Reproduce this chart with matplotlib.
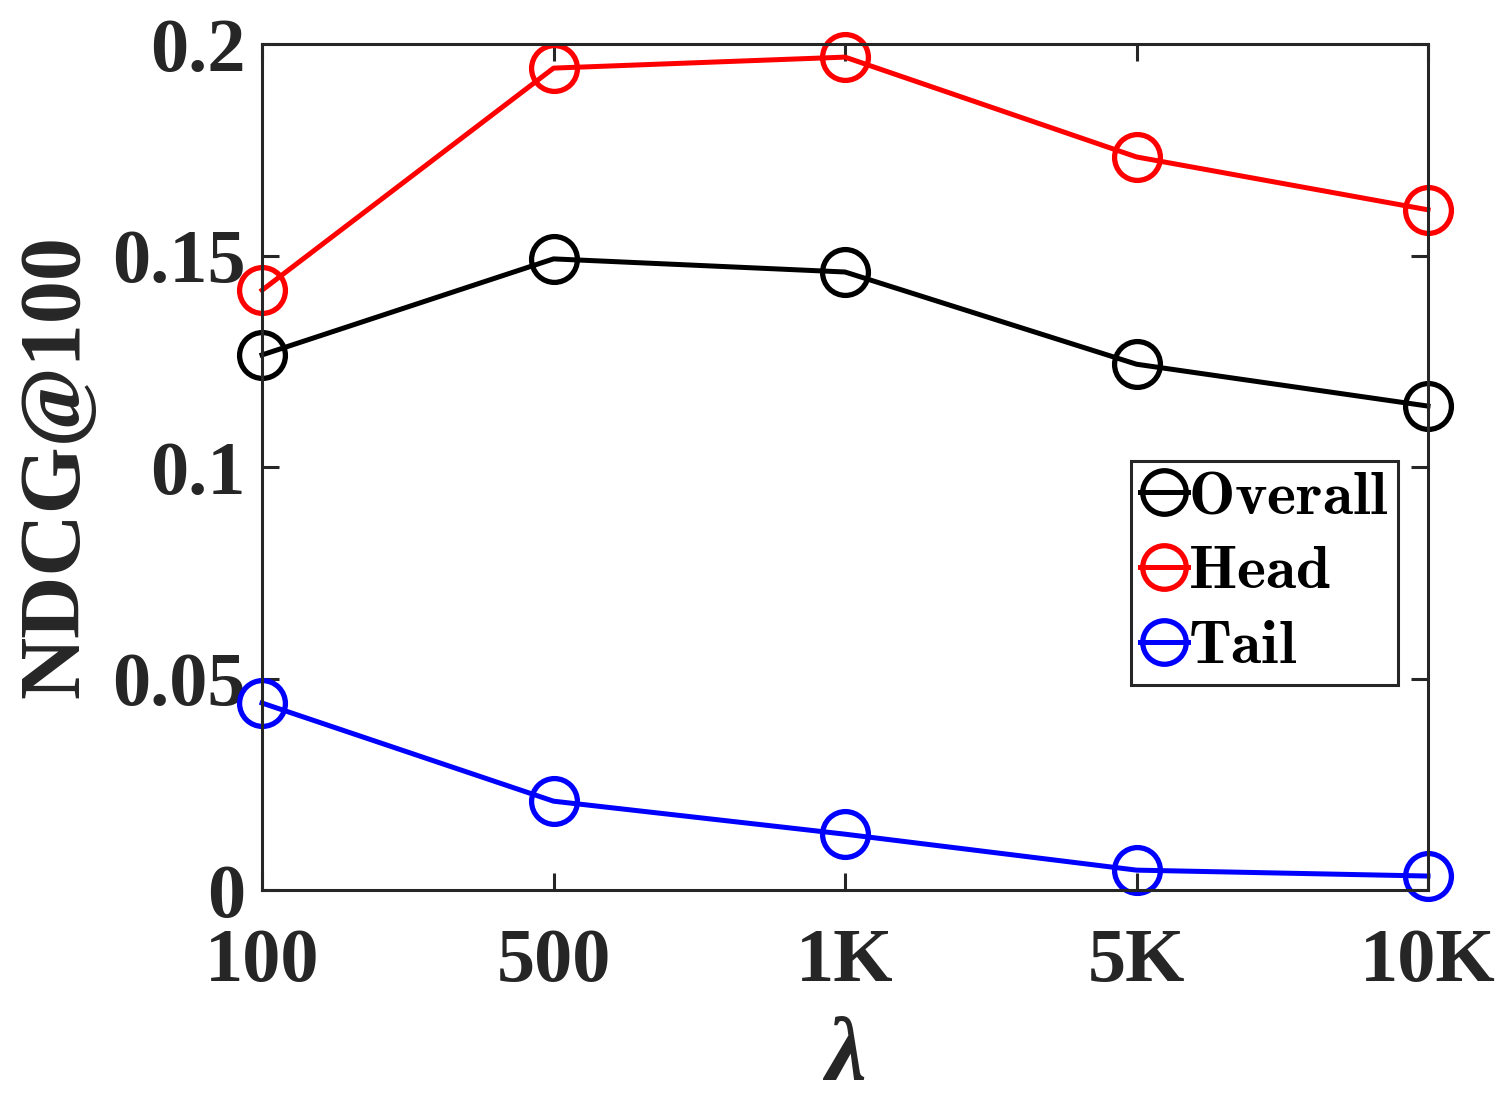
import matplotlib
matplotlib.use("Agg")
import matplotlib.pyplot as plt

plt.rcParams["font.family"] = ["Liberation Serif", "DejaVu Serif"]
plt.rcParams["font.weight"] = "bold"
plt.rcParams["mathtext.fontset"] = "cm"

# x の値 (λ)
lambdas = ["100", "500", "1K", "5K", "10K"]
overall = [0.1265, 0.1492, 0.1461, 0.1243, 0.1144]
head = [0.1418, 0.1943, 0.1969, 0.1733, 0.1608]
tail = [0.0442, 0.0210, 0.0132, 0.0047, 0.0033]
series_names = ["Overall", "Head", "Tail"]

yticks = [0, 0.05, 0.1, 0.15, 0.2]
ytick_labels = ["0", "0.05", "0.1", "0.15", "0.2"]

frame_color = "#262626"

fig = plt.figure(figsize=(15, 11), dpi=100)
ax = fig.add_axes([0.1747, 0.1909, 0.952 - 0.1747, 0.96 - 0.1909])

x = list(range(len(lambdas)))
style = dict(marker="o", markersize=33, markerfacecolor="none",
             markeredgewidth=3.8, lw=3.6, clip_on=False)
for vals, col, name in zip([overall, head, tail], ["black", "red", "blue"], series_names):
    ax.plot(x, vals, color=col, label=r"$\mathbf{%s}$" % name, **style)

ax.set_xlim(0, len(lambdas) - 1)
ax.set_ylim(0, 0.2)
ax.set_xticks(x)
ax.set_xticklabels(lambdas)
ax.set_yticks(yticks)
ax.set_yticklabels(ytick_labels)

for s in ax.spines.values():
    s.set_color(frame_color)
    s.set_linewidth(2.2)
ax.tick_params(direction="in", length=12, width=2.2, color=frame_color,
               labelcolor=frame_color, labelsize=55, top=True, right=True)
ax.tick_params(axis="x", pad=27)
ax.tick_params(axis="y", pad=12)
for lab in ax.get_xticklabels() + ax.get_yticklabels():
    lab.set_fontweight("bold")

ax.set_ylabel("NDCG@100", fontsize=62, fontweight="bold", color=frame_color,
              labelpad=10)
ax.set_xlabel("λ", fontsize=66, fontweight="bold", fontstyle="italic",
              color=frame_color, labelpad=15)

leg = ax.legend(loc="upper left", bbox_to_anchor=(0.745, 0.507),
                fontsize=44.5, handlelength=0.78, handletextpad=0.0,
                borderpad=0.15, labelspacing=0.3, borderaxespad=0,
                fancybox=False, framealpha=1, markerscale=0.95)
leg.get_frame().set_edgecolor(frame_color)
leg.get_frame().set_linewidth(2.2)

fig.savefig("out.png", dpi=100)
